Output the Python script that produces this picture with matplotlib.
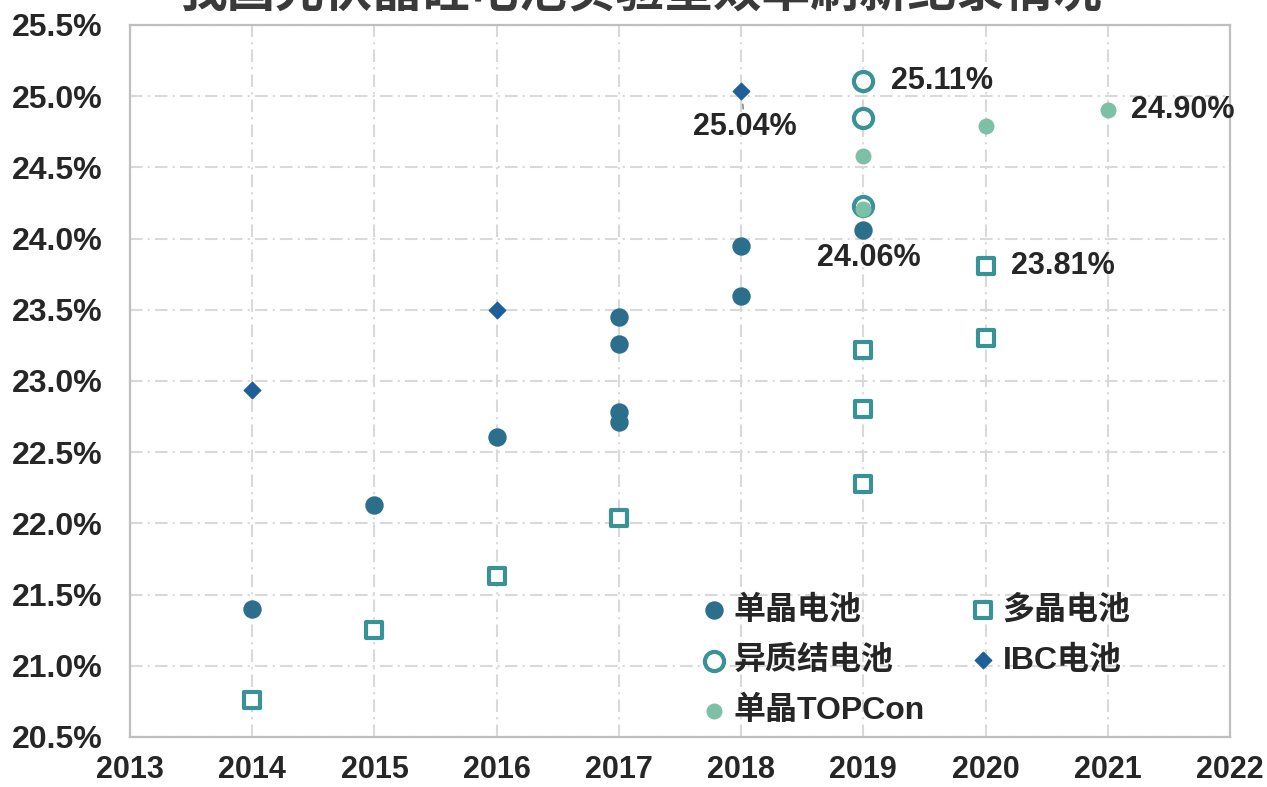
import matplotlib
matplotlib.use("Agg")
import matplotlib.pyplot as plt
from matplotlib.ticker import FuncFormatter, MultipleLocator

plt.rcParams['font.family'] = ['Liberation Sans', 'Noto Sans CJK SC', 'DejaVu Sans']
plt.rcParams['font.weight'] = 'bold'

title = "我国光伏晶硅电池实验室效率刷新纪录情况"

mono_years = [2014, 2015, 2016, 2017, 2017, 2017, 2017, 2018, 2018, 2019]
mono_vals = [21.40, 22.13, 22.61, 23.45, 23.26, 22.78, 22.71, 23.95, 23.60, 24.06]

poly_years = [2014, 2015, 2016, 2017, 2019, 2019, 2019, 2020, 2020]
poly_vals = [20.76, 21.25, 21.63, 22.04, 23.22, 22.80, 22.28, 23.30, 23.81]

hjt_years = [2019, 2019, 2019]
hjt_vals = [25.11, 24.85, 24.23]

ibc_years = [2014, 2016, 2018]
ibc_vals = [22.94, 23.50, 25.04]

topcon_years = [2019, 2019, 2020, 2021]
topcon_vals = [24.58, 24.21, 24.79, 24.90]

series_names = ["单晶电池", "多晶电池", "异质结电池", "IBC电池", "单晶TOPCon"]

# labelled points: (year, value)
labels = [(2019, 25.11), (2018, 25.04), (2019, 24.06), (2020, 23.81), (2021, 24.90)]

fig = plt.figure(figsize=(12.67, 7.87), dpi=100)
ax = fig.add_axes([130/1267, 50/787, 1100/1267, 712/787])

c_mono = "#2b6f8c"
c_poly = "#3a9299"
c_hjt = "#3a9299"
c_ibc = "#1f5f99"
c_top = "#7cc0a5"

h_mono = ax.scatter(mono_years, mono_vals, s=150, color=c_mono, zorder=3, label=series_names[0])
h_poly = ax.scatter(poly_years, poly_vals, s=130, marker='s', facecolor='white', edgecolor=c_poly,
                    linewidth=3, zorder=3, label=series_names[1])
h_hjt = ax.scatter(hjt_years, hjt_vals, s=190, marker='o', facecolor='white', edgecolor=c_hjt,
                   linewidth=3, zorder=3, label=series_names[2])
h_ibc = ax.scatter(ibc_years, ibc_vals, s=70, marker='D', color=c_ibc, zorder=4, label=series_names[3])
h_top = ax.scatter(topcon_years, topcon_vals, s=110, color=c_top, zorder=4, label=series_names[4])

ax.set_xlim(2013, 2022)
ax.set_ylim(20.5, 25.5)
ax.xaxis.set_major_locator(MultipleLocator(1))
ax.yaxis.set_major_locator(MultipleLocator(0.5))
ax.yaxis.set_major_formatter(FuncFormatter(lambda v, p: f"{v:.1f}%"))
ax.xaxis.set_major_formatter(FuncFormatter(lambda v, p: f"{int(round(v))}"))

ax.grid(True, color="#d9d9d9", linewidth=1.5, linestyle=(0, (6, 2.5, 1, 2.5)), zorder=0)
for s in ax.spines.values():
    s.set_color("#bfbfbf")
    s.set_linewidth(1.6)
ax.tick_params(axis='y', length=0, labelsize=23, colors="#262626", pad=20)
ax.tick_params(axis='x', length=0, labelsize=22, colors="#262626", pad=13)
for lab in ax.get_xticklabels() + ax.get_yticklabels():
    lab.set_fontweight('bold')

txt_kw = dict(fontsize=22, fontweight='bold', color="#262626", textcoords='offset points')
ax.annotate(f"{labels[0][1]:.2f}%", labels[0], xytext=(20, 0), ha='left', va='center', **txt_kw)
ax.annotate(f"{labels[1][1]:.2f}%", labels[1], xytext=(3, -26), ha='center', va='center',
            arrowprops=dict(arrowstyle='-', color='#8c8c8c', lw=1.2, shrinkA=0, shrinkB=10), **txt_kw)
ax.annotate(f"{labels[2][1]:.2f}%", labels[2], xytext=(4, -20), ha='center', va='center', **txt_kw)
ax.annotate(f"{labels[3][1]:.2f}%", labels[3], xytext=(18, 0), ha='left', va='center', **txt_kw)
ax.annotate(f"{labels[4][1]:.2f}%", labels[4], xytext=(17, 0), ha='left', va='center', **txt_kw)

leg = ax.legend(handles=[h_mono, h_hjt, h_top, h_poly, h_ibc], ncol=2, frameon=False,
                loc='center left', bbox_to_anchor=(0.496, 0.107),
                prop={'weight': 'bold', 'size': 23}, handletextpad=0.1, columnspacing=1.35,
                labelspacing=0.62, handlelength=1.0, borderaxespad=0.3)
for t in leg.get_texts():
    t.set_color("#262626")

fig.text(640/1267, 1 - 6/787, title, ha='center', va='baseline', fontsize=35, fontweight='bold',
         color="#3a3a3a")

fig.savefig("out.png", dpi=100)
